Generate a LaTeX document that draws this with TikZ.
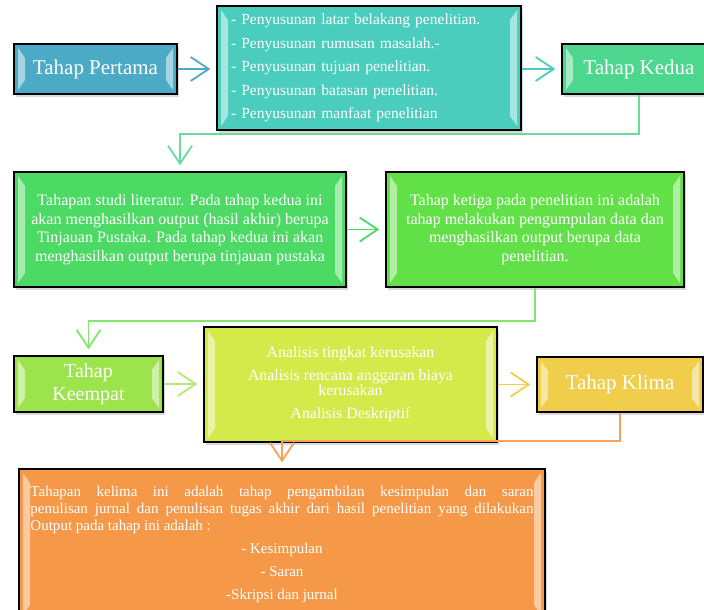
\documentclass[tikz,border=0pt]{standalone}
\usepackage{fontspec}
\setmainfont{Liberation Serif}
\usetikzlibrary{arrows.meta,shadows,calc}

\definecolor{cPertama}{HTML}{4BAAC6}
\definecolor{cDaftar}{HTML}{4BCDBD}
\definecolor{cKedua}{HTML}{4DD68E}
\definecolor{cStudi}{HTML}{4CD964}
\definecolor{cKetiga}{HTML}{62E048}
\definecolor{cKeempat}{HTML}{9BE44B}
\definecolor{cAnalisis}{HTML}{D4EA4B}
\definecolor{cKlima}{HTML}{F0CE4B}
\definecolor{cKelima}{HTML}{F59848}

\begin{document}
\begin{tikzpicture}[x=1pt,y=-1pt]
		\tikzstyle{bevel}=[path picture={
			\path (path picture bounding box.north west) coordinate (nw)
			      (path picture bounding box.south east) coordinate (se);
			\fill[white,opacity=0.5] ($(nw)+(4pt,-4pt)$) -- ++(7pt,-10pt) -- ($(nw|-se)+(11pt,14pt)$) -- ++(-7pt,-10pt) -- cycle;
			\fill[white,opacity=0.5] ($(se|-nw)+(-4pt,-4pt)$) -- ++(-7pt,-10pt) -- ($(se)+(-11pt,14pt)$) -- ++(7pt,-10pt) -- cycle;
		}]
		\tikzstyle{tahap}=[rectangle,draw=black,line width=1.3pt,text=white,align=center,inner sep=0pt,
			drop shadow={shadow xshift=2pt,shadow yshift=-3pt,opacity=0.3},bevel]
		\tikzstyle{judul}=[tahap,font=\fontsize{21}{24}\selectfont]
		\tikzstyle{isi}=[tahap,font=\fontsize{16}{18.5}\selectfont]
		\tikzstyle{link}=[line width=1.8pt,-{Straight Barb[length=18pt,width=24pt]},shorten >=6pt]
		
		\useasboundingbox (0,0) rectangle (704,610);
		\begin{scope}
		\clip (0,0) rectangle (704,610);
		
		\node [judul,fill=cPertama,minimum width=163,minimum height=50] (pertama) at (95.5, 69) {Tahap Pertama};
		\node [tahap,fill=cDaftar,minimum width=304,minimum height=124,text width=276,align=left,
			font=\fontsize{15.5}{23.5}\selectfont] (daftar) at (369, 68)
			{- Penyusunan latar belakang penelitian.\\- Penyusunan rumusan masalah.-\\- Penyusunan tujuan penelitian.\\- Penyusunan batasan penelitian.\\- Penyusunan manfaat penelitian};
		\node [judul,fill=cKedua,minimum width=154,minimum height=50] (kedua) at (639, 69) {Tahap Kedua};
		
		\node [isi,fill=cStudi,minimum width=332,minimum height=115] (studi) at (180, 229.5)
			{Tahapan studi literatur. Pada tahap kedua ini\\akan menghasilkan output (hasil akhir) berupa\\Tinjauan Pustaka. Pada tahap kedua ini akan\\menghasilkan output berupa tinjauan pustaka};
		\node [isi,fill=cKetiga,minimum width=298,minimum height=115] (ketiga) at (535, 229.5)
			{Tahap ketiga pada penelitian ini adalah\\tahap melakukan pengumpulan data dan\\menghasilkan output berupa data\\penelitian.};
		
		\node [judul,fill=cKeempat,minimum width=149,minimum height=56,font=\fontsize{20}{23}\selectfont] (keempat) at (88.5, 384) {Tahap\\Keempat};
		\node [isi,fill=cAnalisis,minimum width=293,minimum height=115,font=\fontsize{15.8}{15}\selectfont] (analisis) at (350.5, 384.5)
			{Analisis tingkat kerusakan\\[8pt]Analisis rencana anggaran biaya\\kerusakan\\[8pt]Analisis Deskriptif};
		\node [judul,fill=cKlima,minimum width=166,minimum height=55] (klima) at (620, 384.5) {Tahap Klima};
		
		\node [tahap,fill=cKelima,minimum width=526,minimum height=150,text width=503,align=justify,
			font=\fontsize{15}{17}\selectfont] (kelima) at (282, 544)
			{Tahapan kelima ini adalah tahap pengambilan kesimpulan dan saran\linebreak
			penulisan jurnal dan penulisan tugas akhir dari hasil penelitian yang dilakukan\linebreak
			Output pada tahap ini adalah :\par
			{\centering\baselineskip=23pt - Kesimpulan\par - Saran\par -Skripsi dan jurnal\par}};
		
		\draw[link,draw=cPertama] (pertama.east) -- (pertama.east -| daftar.west);
		\draw[link,draw=cDaftar] (daftar.east |- kedua.west) -- (kedua.west);
		\draw[link,draw=cKedua!85!white] (kedua.south) -- ++(0,39) -| (studi.north);
		\draw[link,draw=cStudi] (studi.east) -- (ketiga.west);
		\draw[link,draw=cKetiga!80!white] (ketiga.south) -- ++(0,33) -| (keempat.north);
		\draw[link,draw=cKeempat!75!white] (keempat.east) -- (keempat.east -| analisis.west);
		\draw[link,draw=cKlima] (analisis.east |- klima.west) -- (klima.west);
		\draw[link,draw=cKelima!90!white] (klima.south) -- ++(0,28) -| (kelima.north);
		\end{scope}
	\end{tikzpicture}
\end{document}
